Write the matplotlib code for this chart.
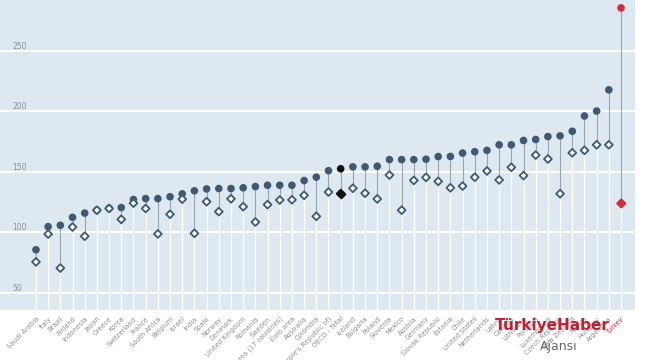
import numpy as np
import matplotlib.pyplot as plt

countries = ["Saudi Arabia", "Italy", "Brazil", "Finland", "Indonesia", "Japan", "Greece",
             "Korea", "Switzerland", "France", "South Africa", "Belgium", "Israel", "India",
             "Spain", "Norway", "Denmark", "United Kingdom", "Romania", "Sweden",
             "Euro area (17 countries)", "Euro area", "Australia", "Colombia",
             "China (People's Republic of)", "OECD - Total", "Iceland", "Bulgaria", "Poland",
             "Slovenia", "Mexico", "Austria", "Germany", "Slovak Republic", "Estonia", "Chile",
             "United States", "Netherlands", "Latvia", "Canada", "Lithuania", "Portugal",
             "Luxembourg", "Czech Republic", "New Zealand", "Russia", "Hungary", "Argentina",
             "Turkey"]

latest = [85.7, 104.8, 105.9, 112.5, 116, 118.4, 120, 120.6, 127.2, 128, 128, 129.5, 131.9,
          134.4, 136, 136.3, 136.3, 136.9, 137.9, 139, 139, 139, 142.9, 145.7, 151, 152.6,
          154.2, 154.2, 154.7, 160.2, 160.2, 160.2, 160.5, 162.7, 162.8, 165.6, 166.7, 167.8,
          172.4, 172.4, 176, 176.8, 179.2, 179.8, 183.6, 196.2, 200.3, 217.8, 285.5]

earlier = [75.7, 98.7, 70.6, 104.5, 96.9, 118.4, 119.8, 110.8, 124.2, 119.8, 98.8, 115, 127.5,
           99.3, 125.4, 117.2, 127.8, 121.3, 108.6, 123, 126.8, 127, 130.7, 113.3, 133.4, 132.1,
           136.5, 132.4, 127.7, 147.4, 118.4, 143, 145.5, 142.2, 136.9, 138.3, 145.6, 150.8,
           143.4, 153.8, 147, 163.9, 160.7, 132, 165.8, 167.8, 172.4, 172.4, 124]

yticks = [50, 100, 150, 200, 250]

BG = '#dde8f0'
MAIN = '#3d5a72'
OECD = '#111111'
RED = '#d8283a'

x = np.arange(len(countries))
latest = np.array(latest)
earlier = np.array(earlier)

fig = plt.figure(figsize=(6.5, 3.6), dpi=100)
ax = fig.add_axes([0, 0.139, 0.977, 0.861])
ax.set_facecolor(BG)
for s in ax.spines.values():
    s.set_visible(False)

ax.set_xlim(-2.95, 49.15)
ax.set_ylim(36, 292)

for t in yticks:
    ax.axhline(t, color='white', lw=1.5, zorder=1)

low = np.minimum(latest, earlier)
high = np.maximum(latest, earlier)
ax.vlines(x, 36, low, color='white', lw=1.0, zorder=2)
ax.vlines(x, low, high, color='#9aa4ad', lw=0.8, zorder=2)

colors = [MAIN] * len(x)
colors[countries.index("OECD - Total")] = OECD
colors[countries.index("Turkey")] = RED

ax.scatter(x, latest, s=30, c=colors, edgecolors='none', zorder=3)
ax.scatter(x, earlier, s=16, marker='D', facecolors='white', edgecolors=colors,
           linewidths=1.3, zorder=4)
oecd = countries.index("OECD - Total")
ax.scatter([x[oecd]], [earlier[oecd]], s=18, marker='D', c=OECD, zorder=5)
tr = countries.index("Turkey")
ax.scatter([x[tr]], [earlier[tr]], s=18, marker='D', c=RED, zorder=5)

ax.set_yticks(yticks)
ax.set_yticklabels([str(t) for t in yticks], fontsize=5.5, color='#8a8f94')
ax.tick_params(axis='y', length=0, pad=-9)
for lab in ax.get_yticklabels():
    lab.set_verticalalignment('bottom')
    lab.set_horizontalalignment('left')

ax.set_xticks(x)
ax.set_xticklabels(countries, rotation=45, ha='right', rotation_mode='anchor',
                   fontsize=4.8, color='#8a8f94')
ax.tick_params(axis='x', length=0, pad=4)
ax.get_xticklabels()[tr].set_color(RED)

fig.text(0.85, 0.095, "TürkiyeHaber", fontsize=11, fontweight='bold', color='#c4202f',
         ha='center', va='center')
fig.text(0.86, 0.038, "Ajansı", fontsize=9, color='#6a6a6a', ha='center', va='center')

fig.savefig('out.png', dpi=100)
